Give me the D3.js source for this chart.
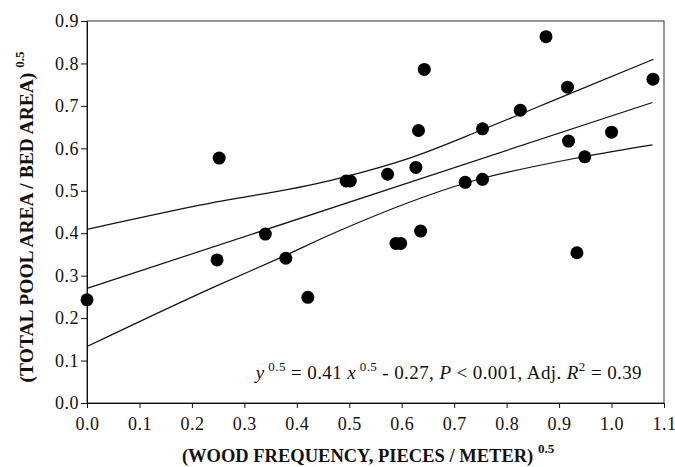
<!DOCTYPE html>
<html>
<head>
<meta charset="utf-8">
<script src="https://cdn.jsdelivr.net/npm/d3@7"></script>
<style>
  body { margin: 0; background: #fff; }
  svg text { font-family: "Liberation Serif", "Times New Roman", serif; fill: #111; }
</style>
</head>
<body>
<div id="chart"></div>
<script>
(function(){
    var width = 675;
    var height = 467;

    // observed points (sqrt wood frequency, sqrt pool fraction)
    var woodX = [0.000, 0.248, 0.252, 0.340, 0.379, 0.421, 0.494, 0.502, 0.573, 0.589,
                 0.598, 0.627, 0.632, 0.636, 0.643, 0.721, 0.754, 0.754, 0.826, 0.875,
                 0.916, 0.918, 0.934, 0.949, 1.000, 1.079];
    var poolY = [0.243, 0.337, 0.577, 0.398, 0.341, 0.249, 0.523, 0.523, 0.539, 0.376,
                 0.376, 0.555, 0.642, 0.405, 0.786, 0.520, 0.527, 0.646, 0.690, 0.863,
                 0.744, 0.617, 0.354, 0.580, 0.638, 0.763];

    // fitted line and confidence band
    var fitX = [0.000, 1.078];
    var fitY = [0.270, 0.708];
    var upperX = [0.000, 0.215, 0.463, 0.622, 0.756, 0.915, 1.080];
    var upperY = [0.409, 0.466, 0.524, 0.580, 0.645, 0.726, 0.810];
    var lowerX = [0.000, 0.247, 0.368, 0.470, 0.724, 0.946, 1.078];
    var lowerY = [0.133, 0.276, 0.342, 0.400, 0.519, 0.580, 0.608];

    var xTicks = [0, 0.1, 0.2, 0.3, 0.4, 0.5, 0.6, 0.7, 0.8, 0.9, 1.0, 1.1];
    var yTicks = [0, 0.1, 0.2, 0.3, 0.4, 0.5, 0.6, 0.7, 0.8, 0.9];

    var margin = {left: 87, right: 11, top: 21, bottom: 64};

    var svg = d3.select("#chart")
        .append("svg")
        .attr("width", width)
        .attr("height", height);

    var x = d3.scaleLinear().domain([0, 1.1]).range([margin.left, width - margin.right]);
    var y = d3.scaleLinear().domain([0, 0.9]).range([height - margin.bottom, margin.top]);

    // frame
    svg.append("rect")
        .attr("x", x(0)).attr("y", y(0.9))
        .attr("width", x(1.1) - x(0)).attr("height", y(0) - y(0.9))
        .attr("fill", "none").attr("stroke", "#333").attr("stroke-width", 1);

    var xAxis = svg.append("g")
        .attr("transform", "translate(0," + y(0) + ")")
        .call(d3.axisBottom(x).tickValues(xTicks).tickSize(5).tickSizeOuter(0).tickPadding(9)
            .tickFormat(d3.format(".1f")));
    var yAxis = svg.append("g")
        .attr("transform", "translate(" + x(0) + ",0)")
        .call(d3.axisLeft(y).tickValues(yTicks).tickSize(6).tickSizeOuter(0).tickPadding(2)
            .tickFormat(d3.format(".1f")));

    [xAxis, yAxis].forEach(function(g){
        g.select(".domain").attr("stroke", "#111");
        g.selectAll(".tick line").attr("stroke", "#111");
        g.selectAll(".tick text")
            .attr("font-family", "Liberation Serif, Times New Roman, serif")
            .attr("font-size", "18px")
            .attr("letter-spacing", "0.5px")
            .attr("fill", "#111");
    });

    // regression and band lines
    var line = d3.line()
        .x(function(d){ return x(d[0]); })
        .y(function(d){ return y(d[1]); })
        .curve(d3.curveMonotoneX);

    [[fitX, fitY], [upperX, upperY], [lowerX, lowerY]].forEach(function(s){
        var pts = s[0].map(function(v, i){ return [v, s[1][i]]; });
        svg.append("path")
            .datum(pts)
            .attr("d", line)
            .attr("fill", "none")
            .attr("stroke", "#111")
            .attr("stroke-width", 1.2);
    });

    // points
    svg.selectAll(".dot")
        .data(woodX)
        .enter().append("circle")
        .attr("class", "dot")
        .attr("cx", function(d){ return x(d); })
        .attr("cy", function(d, i){ return y(poolY[i]); })
        .attr("r", 6.5)
        .attr("fill", "#000");

    // equation
    var eq = svg.append("text")
        .attr("x", 642)
        .attr("y", 379)
        .attr("text-anchor", "end")
        .attr("letter-spacing", "0.4px")
        .attr("font-size", "19px");
    var parts = [
        ["y", "i"], [" 0.5", "s"], [" = 0.41 ", "n"], ["x", "i"], [" 0.5", "s"],
        [" - 0.27, ", "n"], ["P", "i"], [" <  0.001, Adj. ", "n"], ["R", "i"], ["2", "s"],
        [" = 0.39", "n"]
    ];
    parts.forEach(function(p, i){
        var t = eq.append("tspan").text(p[0]);
        if (p[1] === "i") t.attr("font-style", "italic");
        if (p[1] === "s") t.attr("font-size", "13px").attr("dy", -8);
        if (i > 0 && parts[i - 1][1] === "s") t.attr("dy", 8);
    });

    // axis titles
    var xt = svg.append("text")
        .attr("x", 368)
        .attr("y", 462)
        .attr("text-anchor", "middle")
        .attr("font-weight", "bold")
        .attr("font-size", "18.5px");
    xt.append("tspan").text("(WOOD FREQUENCY, PIECES / METER) ");
    xt.append("tspan").attr("font-size", "13px").attr("dy", -9).text("0.5");

    var yt = svg.append("text")
        .attr("transform", "translate(33,217) rotate(-90)")
        .attr("text-anchor", "middle")
        .attr("font-weight", "bold")
        .attr("font-size", "19.5px");
    yt.append("tspan").text("(TOTAL POOL AREA / BED AREA) ");
    yt.append("tspan").attr("font-size", "13px").attr("dy", -9).text("0.5");
})();
</script>
</body>
</html>
